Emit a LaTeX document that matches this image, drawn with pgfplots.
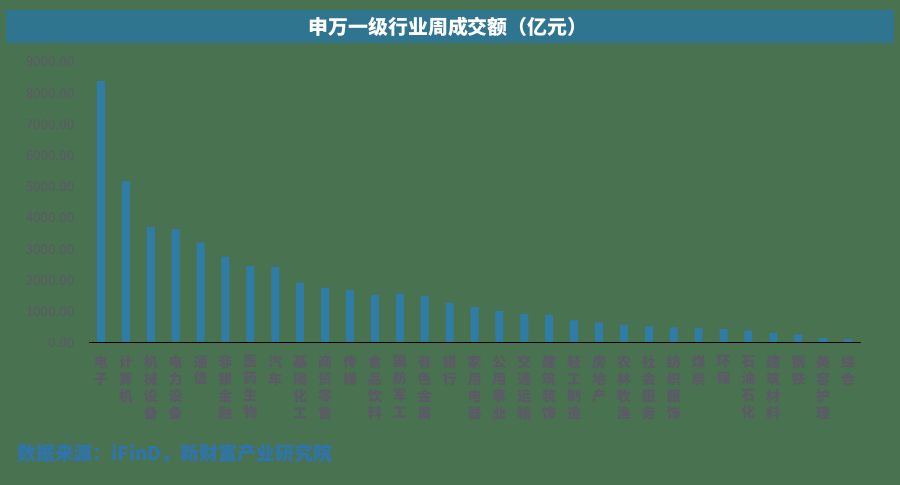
\documentclass[border=0pt]{standalone}
\usepackage{pgfplots}
\pgfplotsset{compat=1.18}
\usepackage{fontspec}
\setmainfont{Noto Sans CJK SC}

\definecolor{bggreen}{RGB}{73,114,80}
\definecolor{bannerteal}{RGB}{47,117,143}
\definecolor{barblue}{RGB}{47,124,166}
\definecolor{ticktext}{RGB}{92,90,102}
\definecolor{srcblue}{RGB}{46,117,175}
\definecolor{baseline}{RGB}{225,232,235}

\begin{document}
\begin{tikzpicture}[x=1bp,y=1bp]
\fill[bggreen] (0,0) rectangle (900,485);
\useasboundingbox (0,0) rectangle (900,485);
% title banner
\fill[bannerteal] (6,442) rectangle (894,475);
\node[white,font=\bfseries\fontsize{20}{24}\selectfont] at (448,458.5) {申万一级行业周成交额（亿元）};
% source note
\node[anchor=west,inner sep=0,srcblue,font=\bfseries\fontsize{19}{22}\selectfont] at (17,31) {数据来源：iFinD，新财富产业研究院};

\begin{axis}[
    at={(88.5bp,142bp)}, anchor=south west,
    scale only axis, width=772bp, height=281bp,
    xmin=-0.5, xmax=30.5, ymin=0, ymax=9000,
    axis line style={draw=none},
    major tick style={draw=none},
    ybar, bar width=8bp,
    ytick={0,1000,...,9000},
    xtick={0,1,...,30},
    xticklabels={{电\\子},{计\\算\\机},{机\\械\\设\\备},{电\\力\\设\\备},{通\\信},{非\\银\\金\\融},{医\\药\\生\\物},{汽\\车},{基\\础\\化\\工},{商\\贸\\零\\售},{传\\媒},{食\\品\\饮\\料},{国\\防\\军\\工},{有\\色\\金\\属},{银\\行},{家\\用\\电\\器},{公\\用\\事\\业},{交\\通\\运\\输},{建\\筑\\装\\饰},{轻\\工\\制\\造},{房\\地\\产},{农\\林\\牧\\渔},{社\\会\\服\\务},{纺\\织\\服\\饰},{煤\\炭},{环\\保},{石\\油\\石\\化},{建\\筑\\材\\料},{钢\\铁},{美\\容\\护\\理},{综\\合}},
    xticklabel style={align=center, anchor=north, inner sep=0pt, yshift=-8bp,
        text=ticktext, font=\bfseries\fontsize{14}{17}\selectfont},
    yticklabel style={anchor=east, inner sep=0pt, xshift=-14bp,
        text=ticktext, font=\fontsize{13.5}{15}\selectfont,
        /pgf/number format/.cd, fixed, fixed zerofill, precision=2, 1000 sep={}, assume math mode=true},
]
\addplot[fill=barblue, draw=none] coordinates {
 (0,8385) (1,5180) (2,3720) (3,3650) (4,3225) (5,2765) (6,2470) (7,2435)
 (8,1935) (9,1775) (10,1700) (11,1545) (12,1575) (13,1510) (14,1275)
 (15,1150) (16,1030) (17,935) (18,905) (19,725) (20,660) (21,585)
 (22,530) (23,500) (24,480) (25,445) (26,395) (27,320) (28,265)
 (29,160) (30,128)
};
\draw[baseline, line width=1.8bp] (axis cs:-0.5,0) -- (axis cs:30.5,0);
\end{axis}
\end{tikzpicture}
\end{document}
